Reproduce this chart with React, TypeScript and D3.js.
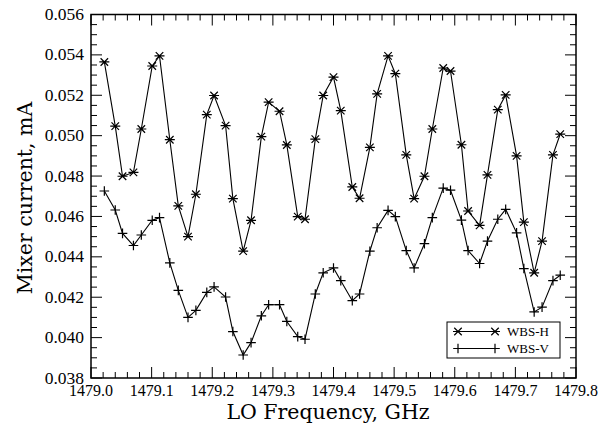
import React from 'react';
import * as d3 from 'd3';

const freq = [
  1479.022, 1479.040, 1479.052, 1479.070, 1479.083, 1479.101, 1479.113, 1479.130, 1479.144, 1479.160,
  1479.173, 1479.191, 1479.203, 1479.222, 1479.234, 1479.251, 1479.264, 1479.281, 1479.293, 1479.311,
  1479.323, 1479.341, 1479.353, 1479.370, 1479.383, 1479.400, 1479.412, 1479.431, 1479.443, 1479.460,
  1479.472, 1479.490, 1479.502, 1479.520, 1479.533, 1479.550, 1479.563, 1479.581, 1479.593, 1479.611,
  1479.622, 1479.641, 1479.654, 1479.671, 1479.684, 1479.702, 1479.714, 1479.731, 1479.744, 1479.762,
  1479.774,
];

const wbsH = [
  0.05365, 0.05047, 0.04799, 0.04818, 0.05033, 0.05345, 0.05395, 0.04980, 0.04652, 0.04500,
  0.04710, 0.05104, 0.05199, 0.05050, 0.04688, 0.04428, 0.04581, 0.04995, 0.05166, 0.05121,
  0.04954, 0.04599, 0.04586, 0.04983, 0.05199, 0.05290, 0.05124, 0.04746, 0.04690, 0.04942,
  0.05207, 0.05395, 0.05307, 0.04905, 0.04688, 0.04799, 0.05033, 0.05335, 0.05320, 0.04955,
  0.04627, 0.04556, 0.04806, 0.05129, 0.05202, 0.04900, 0.04572, 0.04321, 0.04478, 0.04905,
  0.05008,
];

const wbsV = [
  0.04726, 0.04632, 0.04516, 0.04456, 0.04508, 0.04581, 0.04594, 0.04370, 0.04234, 0.04100,
  0.04135, 0.04224, 0.04251, 0.04201, 0.04030, 0.03914, 0.03975, 0.04108, 0.04163, 0.04163,
  0.04080, 0.04005, 0.03992, 0.04216, 0.04321, 0.04345, 0.04282, 0.04183, 0.04216, 0.04428,
  0.04544, 0.04630, 0.04599, 0.04431, 0.04345, 0.04465, 0.04594, 0.04740, 0.04730, 0.04582,
  0.04431, 0.04367, 0.04478, 0.04586, 0.04635, 0.04519, 0.04342, 0.04127, 0.04151, 0.04282,
  0.04309,
];

const xTickLabels = ['1479.0', '1479.1', '1479.2', '1479.3', '1479.4', '1479.5', '1479.6', '1479.7', '1479.8'];
const yTickLabels = ['0.038', '0.040', '0.042', '0.044', '0.046', '0.048', '0.050', '0.052', '0.054', '0.056'];
const seriesNames = ['WBS-H', 'WBS-V'];

const L = 91, R = 576, T = 14.5, B = 378;

function asterisk(r: number) {
  const d = r * 0.75;
  return `M${-r},0H${r}M${-d},${-d}L${d},${d}M${-d},${d}L${d},${-d}`;
}
function plus(r: number) {
  return `M${-r},0H${r}M0,${-r}V${r}`;
}

export default function App() {
  const x = d3.scaleLinear().domain([1479.0, 1479.8]).range([L, R]);
  const y = d3.scaleLinear().domain([0.038, 0.056]).range([B, T]);
  const xMajor = xTickLabels.map(Number);
  const yMajor = yTickLabels.map(Number);
  const xMinor = d3.range(0, 41).map(i => 1479.0 + i * 0.02).filter((_, i) => i % 5 !== 0);
  const yMinor = d3.range(0, 37).map(i => 0.038 + i * 0.0005).filter((_, i) => i % 4 !== 0);
  const line = d3.line<number>().x((_, i) => x(freq[i])).y(v => y(v));
  const astPath = asterisk(5);
  const plusPath = plus(4.8);
  const tickFont = 'Liberation Serif';
  const MJ = 11, MN = 6;

  return (
    <svg width={613} height={432} style={{ position: 'absolute', left: 0, top: 0, background: '#fff' }}>
      <rect x={0} y={0} width={613} height={432} fill="#fff" />
      <g stroke="#000" strokeWidth={1}>
        {xMajor.map((v, i) => (
          <g key={'xm' + i}>
            <line x1={x(v)} x2={x(v)} y1={B} y2={B - MJ} />
            <line x1={x(v)} x2={x(v)} y1={T} y2={T + MJ} />
          </g>
        ))}
        {xMinor.map((v, i) => (
          <g key={'xn' + i}>
            <line x1={x(v)} x2={x(v)} y1={B} y2={B - MN} />
            <line x1={x(v)} x2={x(v)} y1={T} y2={T + MN} />
          </g>
        ))}
        {yMajor.map((v, i) => (
          <g key={'ym' + i}>
            <line x1={L} x2={L + MJ} y1={y(v)} y2={y(v)} />
            <line x1={R} x2={R - MJ} y1={y(v)} y2={y(v)} />
          </g>
        ))}
        {yMinor.map((v, i) => (
          <g key={'yn' + i}>
            <line x1={L} x2={L + MN} y1={y(v)} y2={y(v)} />
            <line x1={R} x2={R - MN} y1={y(v)} y2={y(v)} />
          </g>
        ))}
      </g>
      <rect x={L} y={T} width={R - L} height={B - T} fill="none" stroke="#000" strokeWidth={1.5} />
      <g fontFamily={tickFont} fill="#000">
        {xMajor.map((v, i) => (
          <text key={'xl' + i} x={x(v)} y={B + 18} fontSize={16} textAnchor="middle">{xTickLabels[i]}</text>
        ))}
        {yMajor.map((v, i) => (
          <text key={'yl' + i} x={L - 7} y={y(v) + 5.5} fontSize={17.5} textAnchor="end">{yTickLabels[i]}</text>
        ))}
      </g>
      <text x={328} y={419} textAnchor="middle" fontFamily="DejaVu Serif" fontSize={20.5} fill="#000">LO Frequency, GHz</text>
      <text transform={`translate(32,198) rotate(-90)`} textAnchor="middle" fontFamily="DejaVu Serif" fontSize={20.5} fill="#000">Mixer current, mA</text>
      <path d={line(wbsH) || ''} fill="none" stroke="#000" strokeWidth={1.1} />
      <path d={line(wbsV) || ''} fill="none" stroke="#000" strokeWidth={1.1} />
      <g stroke="#000" strokeWidth={1.2} fill="none">
        {wbsH.map((v, i) => (
          <path key={'ph' + i} d={astPath} transform={`translate(${x(freq[i])},${y(v)})`} />
        ))}
        {wbsV.map((v, i) => (
          <path key={'pv' + i} d={plusPath} transform={`translate(${x(freq[i])},${y(v)})`} />
        ))}
      </g>
      <rect x={447} y={322} width={113} height={36} fill="#fff" stroke="#000" strokeWidth={1} />
      <g stroke="#000" strokeWidth={1.2} fill="none">
        <line x1={458} x2={495} y1={331.5} y2={331.5} />
        <path d={astPath} transform="translate(458,331.5)" />
        <path d={astPath} transform="translate(495,331.5)" />
        <line x1={458} x2={495} y1={348.5} y2={348.5} />
        <path d={plusPath} transform="translate(458,348.5)" />
        <path d={plusPath} transform="translate(495,348.5)" />
      </g>
      <g fontFamily={tickFont} fontSize={13} fill="#000">
        <text x={507} y={336}>{seriesNames[0]}</text>
        <text x={507} y={353}>{seriesNames[1]}</text>
      </g>
    </svg>
  );
}
